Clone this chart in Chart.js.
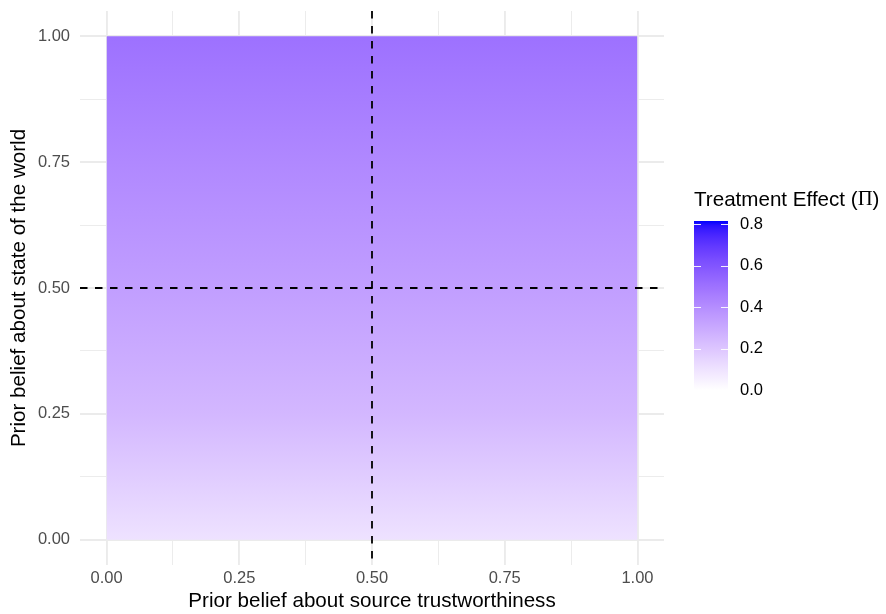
<!DOCTYPE html>
<html>
<head>
<meta charset="utf-8">
<script src="https://cdn.jsdelivr.net/npm/chart.js@4/dist/chart.umd.min.js"></script>
<style>
  html, body { margin: 0; padding: 0; background: #fff; }
  #wrap { width: 886px; height: 614px; }
</style>
</head>
<body>
<div id="wrap"><canvas id="effectChart" width="886" height="614"></canvas></div>
<script>
'use strict';

// --- data ---
const sourceRange = [0, 1];                          // tile extent along x (source trustworthiness)
const worldPrior = [0, 0.25, 0.5, 0.75, 1];          // y positions where the effect was read
const treatmentEffect = [0.10, 0.25, 0.34, 0.42, 0.50];
const axisTicks = [0, 0.125, 0.25, 0.375, 0.5, 0.625, 0.75, 0.875, 1];
const majorTicks = [0, 0.25, 0.5, 0.75, 1];
const axisLimits = [-0.05, 1.05];
const refLineX = 0.5;
const refLineY = 0.5;
const legendTicks = [0, 0.2, 0.4, 0.6, 0.8];
const legendLimits = [0, 0.816];

const FONT = "'Liberation Sans', Arial, sans-serif";
const TICK_SIZE = 16.5;
const TITLE_SIZE = 20.6;

// white -> blue ramp interpolated in CIELAB (like ggplot's scale_fill_gradient)
function effectColor(v) {
    const t = Math.max(0, Math.min(1, (v - legendLimits[0]) / (legendLimits[1] - legendLimits[0])));
    const L = 100 + (32.30 - 100) * t, A = 79.19 * t, B = -107.86 * t;
    const fy = (L + 16) / 116, fx = fy + A / 500, fz = fy - B / 200;
    const inv = f => (f ** 3 > 0.008856 ? f ** 3 : (f - 16 / 116) / 7.787);
    const X = 0.95047 * inv(fx), Y = inv(fy), Z = 1.08883 * inv(fz);
    const lin = [
        3.2406 * X - 1.5372 * Y - 0.4986 * Z,
        -0.9689 * X + 1.8758 * Y + 0.0415 * Z,
        0.0557 * X - 0.2040 * Y + 1.0570 * Z
    ];
    const rgb = lin.map(c => {
        c = Math.max(0, Math.min(1, c));
        return Math.round(255 * (c <= 0.0031308 ? 12.92 * c : 1.055 * c ** (1 / 2.4) - 0.055));
    });
    return `rgb(${rgb.join(',')})`;
}

function tileGradient(context) {
    const { chart } = context;
    const { ctx, chartArea, scales } = chart;
    if (!chartArea) return 'transparent';
    const lo = worldPrior[0], hi = worldPrior[worldPrior.length - 1];
    const g = ctx.createLinearGradient(0, scales.y.getPixelForValue(lo), 0, scales.y.getPixelForValue(hi));
    worldPrior.forEach((p, i) => g.addColorStop((p - lo) / (hi - lo), effectColor(treatmentEffect[i])));
    return g;
}

const isMajor = v => majorTicks.some(m => Math.abs(m - v) < 1e-9);

function axisOptions(title, fit, tickPadding, titlePadding) {
    return {
        type: 'linear',
        min: axisLimits[0],
        max: axisLimits[1],
        afterBuildTicks: s => { s.ticks = axisTicks.map(v => ({ value: v })); },
        afterFit: fit,
        ticks: {
            autoSkip: false,
            maxRotation: 0,
            padding: tickPadding,
            color: '#4D4D4D',
            font: { family: FONT, size: TICK_SIZE },
            callback: v => (isMajor(v) ? v.toFixed(2) : '')
        },
        grid: {
            color: '#EBEBEB',
            drawTicks: false,
            lineWidth: c => (c.tick && isMajor(c.tick.value) ? 1.9 : 0.95)
        },
        border: { display: false },
        title: {
            display: true,
            text: title,
            color: '#000',
            font: { family: FONT, size: TITLE_SIZE },
            padding: titlePadding
        }
    };
}

const overlayPlugin = {
    id: 'overlay',
    afterDatasetsDraw(chart) {
        const { ctx, chartArea, scales } = chart;
        const px = scales.x.getPixelForValue(refLineX);
        const py = scales.y.getPixelForValue(refLineY);
        ctx.save();
        ctx.strokeStyle = '#000';
        ctx.lineWidth = 1.8;
        ctx.setLineDash([7.5, 7.5]);
        ctx.beginPath();
        ctx.moveTo(px, chartArea.top);
        ctx.lineTo(px, chartArea.bottom);
        ctx.stroke();
        ctx.beginPath();
        ctx.moveTo(chartArea.left, py);
        ctx.lineTo(chartArea.right, py);
        ctx.stroke();
        ctx.restore();
    },
    afterDraw(chart) {
        const ctx = chart.ctx;
        // colour bar legend
        const barLeft = 694, barW = 34, barBottom = 390, barTop = 221;
        const toY = v => barBottom - (v - legendLimits[0]) / (legendLimits[1] - legendLimits[0]) * (barBottom - barTop);
        ctx.save();
        const g = ctx.createLinearGradient(0, barBottom, 0, barTop);
        for (let i = 0; i <= 40; i++) {
            const f = i / 40;
            g.addColorStop(f, effectColor(legendLimits[0] + f * (legendLimits[1] - legendLimits[0])));
        }
        ctx.fillStyle = g;
        ctx.fillRect(barLeft, barTop, barW, barBottom - barTop);

        ctx.strokeStyle = 'rgba(255,255,255,0.9)';
        ctx.lineWidth = 1;
        legendTicks.forEach(v => {
            const y = Math.round(toY(v)) + 0.5;
            ctx.beginPath();
            ctx.moveTo(barLeft, y); ctx.lineTo(barLeft + 7, y);
            ctx.moveTo(barLeft + barW - 7, y); ctx.lineTo(barLeft + barW, y);
            ctx.stroke();
        });

        ctx.fillStyle = '#000';
        ctx.font = `${TICK_SIZE}px ${FONT}`;
        ctx.textAlign = 'left';
        ctx.textBaseline = 'middle';
        legendTicks.forEach(v => ctx.fillText(v.toFixed(1), barLeft + barW + 12, toY(v)));

        // title: Treatment Effect (Π)
        ctx.font = `${TITLE_SIZE}px ${FONT}`;
        let x = barLeft;
        const ty = 200;
        const part1 = 'Treatment Effect (';
        ctx.fillText(part1, x, ty);
        x += ctx.measureText(part1).width;
        ctx.font = `${TITLE_SIZE}px 'Liberation Serif', 'DejaVu Serif', serif`;
        ctx.fillText('\u03A0', x, ty);
        x += ctx.measureText('\u03A0').width;
        ctx.font = `${TITLE_SIZE}px ${FONT}`;
        ctx.fillText(')', x, ty);
        ctx.restore();
    }
};

const ctx = document.getElementById('effectChart').getContext('2d');
new Chart(ctx, {
    type: 'line',
    data: {
        datasets: [{
            label: 'Treatment effect',
            data: sourceRange.map(x => ({ x, y: worldPrior[worldPrior.length - 1] })),
            fill: { value: worldPrior[0] },
            backgroundColor: tileGradient,
            borderColor: 'transparent',
            borderWidth: 0,
            pointRadius: 0,
            tension: 0
        }]
    },
    options: {
        responsive: false,
        animation: false,
        layout: { padding: { top: 11, right: 222, left: 0, bottom: 0 } },
        scales: {
            x: axisOptions('Prior belief about source trustworthiness',
                s => { s.height = 49; s.paddingLeft = 0; s.paddingRight = 0; }, 4, { top: 0, bottom: 0 }),
            y: axisOptions('Prior belief about state of the world',
                s => { s.width = 80; s.paddingTop = 0; s.paddingBottom = 0; }, 10, { top: 7, bottom: 0 })
        },
        plugins: {
            legend: { display: false },
            tooltip: { enabled: false }
        }
    },
    plugins: [overlayPlugin]
});
</script>
</body>
</html>
